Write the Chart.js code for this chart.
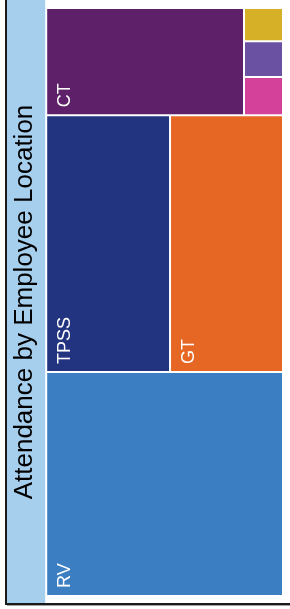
<!DOCTYPE html>
<html>
<head>
<meta charset="utf-8">
<title>Attendance by Employee Location</title>
<script src="https://cdn.jsdelivr.net/npm/chart.js@4.4.1/dist/chart.umd.min.js"></script>
<style>
  html, body { margin: 0; padding: 0; background: #fff; }
  #wrap { position: relative; width: 290px; height: 609px; }
</style>
</head>
<body>
<div id="wrap"><canvas id="treemap-chart" width="290" height="609"></canvas></div>
<script>
// data (cell areas)
const locations = ['RV', 'TPSS', 'GT', 'CT', 'HS', 'MB', 'WO'];
const attendance = [532, 319, 291, 213, 13, 14, 15];
const cellColors = ['#3B7EC2', '#223480', '#E66623', '#5E2069', '#D6B128', '#6B51A1', '#D4419A'];

// d3 style squarify (golden ratio) in the unrotated frame
function squarify(values, X, Y) {
  const ratio = (1 + Math.sqrt(5)) / 2;
  const order = values.map((v, i) => i).sort((a, b) => values[b] - values[a]);
  const rects = new Array(values.length);
  let value = values.reduce((s, v) => s + v, 0);
  let x0 = 0, y0 = 0, x1 = X, y1 = Y;
  let i0 = 0, i1 = 0;
  const n = order.length;
  while (i0 < n) {
    const dx = x1 - x0, dy = y1 - y0;
    let sum = values[order[i1++]];
    let minV = sum, maxV = sum;
    const alpha = Math.max(dy / dx, dx / dy) / (value * ratio);
    let beta = sum * sum * alpha;
    let minRatio = Math.max(maxV / beta, beta / minV);
    for (; i1 < n; ++i1) {
      const v = values[order[i1]];
      sum += v;
      if (v < minV) minV = v;
      if (v > maxV) maxV = v;
      beta = sum * sum * alpha;
      const r = Math.max(maxV / beta, beta / minV);
      if (r > minRatio) { sum -= v; break; }
      minRatio = r;
    }
    const row = order.slice(i0, i1);
    if (dx < dy) {
      const yb = y0 + dy * sum / value;
      let x = x0;
      row.forEach(k => { const w = dx * values[k] / sum; rects[k] = {x0: x, x1: x + w, y0: y0, y1: yb}; x += w; });
      y0 = yb;
    } else {
      const xb = x0 + dx * sum / value;
      let y = y0;
      row.forEach(k => { const h = dy * values[k] / sum; rects[k] = {x0: x0, x1: xb, y0: y, y1: y + h}; y += h; });
      x0 = xb;
    }
    value -= sum;
    i0 = i1;
  }
  return rects;
}

class TreemapController extends Chart.DatasetController {
  update(mode) {
    const meta = this._cachedMeta;
    this.updateElements(meta.data, 0, meta.data.length, mode);
  }
  updateElements(elements, start, count, mode) {
    const {xScale, yScale} = this._cachedMeta;
    const area = this.chart.chartArea;
    const X = area.bottom - area.top;   // chart is turned a quarter: long side runs up the page
    const Y = area.right - area.left;
    const rects = squarify(this.getDataset().data, X, Y);
    for (let i = start; i < start + count; i++) {
      const r = rects[i];
      const left = xScale.getPixelForValue(r.y0 / Y);
      const right = xScale.getPixelForValue(r.y1 / Y);
      const bottom = yScale.getPixelForValue(r.x0 / X);
      const top = yScale.getPixelForValue(r.x1 / X);
      this.updateElement(elements[i], i, {
        x: (left + right) / 2,
        width: right - left,
        y: top,
        base: bottom,
        height: bottom - top,
        horizontal: false,
        inflateAmount: 0,
        borderSkipped: {},
        enableBorderRadius: false,
        options: this.resolveDataElementOptions(i, mode)
      }, 'none');
    }
  }
}
TreemapController.id = 'treemap';
TreemapController.defaults = { datasetElementType: false, dataElementType: 'bar' };
Chart.register(TreemapController);

const backdrop = {
  id: 'backdrop',
  beforeDraw(chart) {
    const {ctx, titleBlock} = chart;
    ctx.save();
    ctx.fillStyle = '#A6CFEE';
    ctx.fillRect(titleBlock.left, 0, titleBlock.width - 1, chart.height - 6);
    ctx.fillStyle = '#1a1a1a';
    ctx.fillRect(5, 0, 2, chart.height - 4);
    ctx.fillRect(5, chart.height - 6, chart.width - 5, 2);
    ctx.fillStyle = '#a0a0a0';
    ctx.fillRect(7, chart.height - 4, chart.width - 7, 1);
    ctx.restore();
  }
};

const cellLabels = {
  id: 'cellLabels',
  afterDatasetsDraw(chart) {
    const meta = chart.getDatasetMeta(0);
    const ctx = chart.ctx;
    ctx.save();
    ctx.font = '18px "Liberation Sans", Arial, sans-serif';
    ctx.fillStyle = '#ffffff';
    ctx.textAlign = 'left';
    ctx.textBaseline = 'top';
    meta.data.forEach((bar, i) => {
      const {x, y, base, width} = bar.getProps(['x', 'y', 'base', 'width'], true);
      const text = chart.data.labels[i];
      if (ctx.measureText(text).width + 24 > base - y || width < 40) return; // too small, Excel drops it
      ctx.save();
      ctx.translate(x - width / 2 + 10, base - 8);
      ctx.rotate(-Math.PI / 2);
      ctx.fillText(text, 0, 0);
      ctx.restore();
    });
    ctx.restore();
  }
};

const ctx = document.getElementById('treemap-chart').getContext('2d');
new Chart(ctx, {
  type: 'treemap',
  data: {
    labels: locations,
    datasets: [{
      data: attendance,
      backgroundColor: cellColors,
      borderColor: '#ffffff',
      borderWidth: 1
    }]
  },
  options: {
    responsive: false,
    animation: false,
    layout: { padding: { left: 7, right: 7, top: 8, bottom: 13 } },
    scales: {
      x: { type: 'linear', min: 0, max: 1, display: false },
      y: { type: 'linear', min: 0, max: 1, display: false }
    },
    plugins: {
      legend: { display: false },
      tooltip: { enabled: false },
      title: {
        display: true,
        text: 'Attendance by Employee Location',
        position: 'left',
        color: '#000000',
        font: { family: '"Liberation Sans", Arial, sans-serif', size: 26, weight: 'normal' },
        padding: { top: 2, bottom: 6 }
      }
    }
  },
  plugins: [backdrop, cellLabels]
});
</script>
</body>
</html>
